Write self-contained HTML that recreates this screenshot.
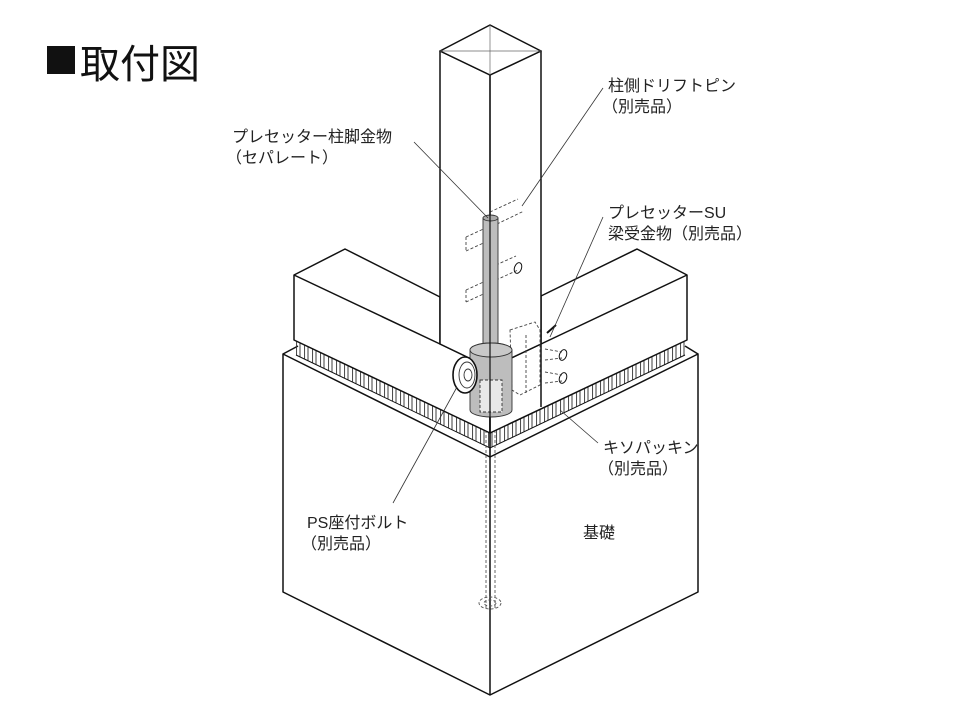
<!DOCTYPE html>
<html><head><meta charset="utf-8"><style>
html,body{margin:0;padding:0;background:#fff;}
svg{display:block;}
text{font-family:"Liberation Sans","Noto Sans CJK JP",sans-serif;fill:#222;}
</style></head><body>
<svg width="960" height="720" viewBox="0 0 960 720" xmlns="http://www.w3.org/2000/svg">
<defs>
<pattern id="tl" width="8" height="40" patternUnits="userSpaceOnUse" patternTransform="skewY(26.1)">
<path d="M0.5,0 V40 M4,0 V40" stroke="#333" stroke-width="0.9" fill="none"/>
</pattern>
<pattern id="tr" width="8" height="40" patternUnits="userSpaceOnUse" patternTransform="skewY(-25.8)">
<path d="M0.5,0 V40 M4,0 V40" stroke="#333" stroke-width="0.9" fill="none"/>
</pattern>
</defs>
<rect width="960" height="720" fill="#fff"/>
<rect x="47" y="46" width="28" height="28" fill="#111"/>
<text x="80" y="78" font-size="40" style="fill:#111;font-family:'Noto Sans CJK JP',sans-serif">取付図</text>

<!-- foundation -->
<g fill="#fff" stroke="#111" stroke-width="1.5" stroke-linejoin="round">
<polygon points="283,354 490,457 698,354 698,592 490,695 283,592"/>
<line x1="490" y1="457" x2="490" y2="695"/>
<polyline points="283,354 298,346" fill="none"/>
<polyline points="698,354 685,346" fill="none"/>
</g>
<!-- packing band -->
<polygon points="296,340 490,433 490,448 296,355" fill="url(#tl)"/>
<polygon points="685,340 490,433 490,448 685,355" fill="url(#tr)"/>
<g stroke="#111" stroke-width="1" fill="none">
<polyline points="296,355 490,448 685,355"/>
</g>

<!-- dashed anchor bolt -->
<g stroke="#555" stroke-width="0.9" fill="none" stroke-dasharray="3,2">
<line x1="486" y1="415" x2="486" y2="610"/>
<line x1="495" y1="415" x2="495" y2="610"/>
<ellipse cx="490" cy="603" rx="11" ry="6"/>
<ellipse cx="490" cy="603" rx="6" ry="3"/>
</g>

<!-- beams -->
<g fill="#fff" stroke="#111" stroke-width="1.5" stroke-linejoin="round">
<polygon points="294,275 345,249 440,297 440,344 490,368 490,433 294,340"/>
<polygon points="687,275 637,249 541,296 541,344 490,368 490,433 687,340"/>
<line x1="294" y1="275" x2="440" y2="344"/>
<line x1="687" y1="275" x2="541" y2="344"/>
</g>
<!-- column -->
<g fill="#fff" stroke="#111" stroke-width="1.5" stroke-linejoin="round">
<polygon points="440,51 490,75 541,51 541,344 490,368 440,344"/>
<polygon points="440,51 490,25 541,51 490,75"/>
<line x1="490" y1="75" x2="490" y2="457"/>
<line x1="541" y1="344" x2="541" y2="407"/>
</g>
<g stroke="#666" stroke-width="0.7"><line x1="490" y1="25" x2="490" y2="75"/><line x1="440" y1="51" x2="541" y2="51"/></g>

<!-- drift pins dashed -->
<g stroke="#444" stroke-width="0.9" fill="none" stroke-dasharray="3,2">
<path d="M490,212 L518,199 M497,224 L524,211 M466,237 L490,226 M466,251 L490,240 M466,237 L466,251 M496,265 L516,256 M496,280 L518,270 M466,290 L490,279 M466,302 L490,291 M466,290 L466,302"/>
</g>
<g stroke="#111" stroke-width="1" fill="none">
<ellipse cx="518" cy="268" rx="3.5" ry="5.5" transform="rotate(20 518 268)"/>
<ellipse cx="563" cy="355" rx="3.5" ry="5.5" transform="rotate(20 563 355)"/>
<ellipse cx="563" cy="378" rx="3.5" ry="5.5" transform="rotate(20 563 378)"/>
</g>
<!-- SU bracket -->
<g stroke="#444" stroke-width="0.9" fill="none" stroke-dasharray="3,2">
<polygon points="510,330 535,322 540,330 540,385 520,395 512,390"/>
<line x1="545" y1="349" x2="562" y2="352"/><line x1="545" y1="360" x2="562" y2="358"/>
<line x1="545" y1="372" x2="562" y2="375"/><line x1="545" y1="383" x2="562" y2="381"/>
<line x1="526" y1="335" x2="526" y2="395"/>
</g>
<line x1="547" y1="333" x2="556" y2="325" stroke="#111" stroke-width="2"/>

<!-- metal post base -->
<g stroke="#333" stroke-width="0.9">
<rect x="483" y="218" width="15" height="128" fill="#bdbdbd"/>
<ellipse cx="490.5" cy="218" rx="7.5" ry="3" fill="#aaa"/>
<path d="M470,350 L470,410 A21,7 0 0 0 512,410 L512,350 A21,7 0 0 0 470,350 Z" fill="#bdbdbd"/>
<ellipse cx="491" cy="350" rx="21" ry="7" fill="#c8c8c8"/>
<rect x="480" y="380" width="22" height="32" fill="#e8e8e8" stroke-dasharray="3,2"/>
<ellipse cx="465" cy="375" rx="12" ry="18" fill="#fff" stroke="#111" stroke-width="1.6"/>
<ellipse cx="467" cy="375" rx="8" ry="13" fill="#fff"/>
<ellipse cx="468" cy="375" rx="4" ry="6" fill="#fff"/>
</g>
<line x1="490" y1="75" x2="490" y2="457" stroke="#111" stroke-width="1.2"/>

<!-- leaders -->
<g stroke="#333" stroke-width="0.8">
<line x1="414" y1="142" x2="488" y2="218"/>
<line x1="603" y1="88" x2="522" y2="206"/>
<line x1="603" y1="217" x2="550" y2="337"/>
<line x1="598" y1="443" x2="560" y2="410"/>
<line x1="393" y1="503" x2="457" y2="387"/>
</g>

<!-- labels -->
<g font-size="16">
<text x="608" y="91">柱側ドリフトピン</text>
<text x="602" y="112">（別売品）</text>
<text x="232" y="142">プレセッター柱脚金物</text>
<text x="226" y="163">（セパレート）</text>
<text x="608" y="218">プレセッターSU</text>
<text x="608" y="239">梁受金物（別売品）</text>
<text x="603" y="453">キソパッキン</text>
<text x="598" y="474">（別売品）</text>
<text x="307" y="528">PS座付ボルト</text>
<text x="301" y="549">（別売品）</text>
<text x="583" y="538">基礎</text>
</g>
</svg>
</body></html>
